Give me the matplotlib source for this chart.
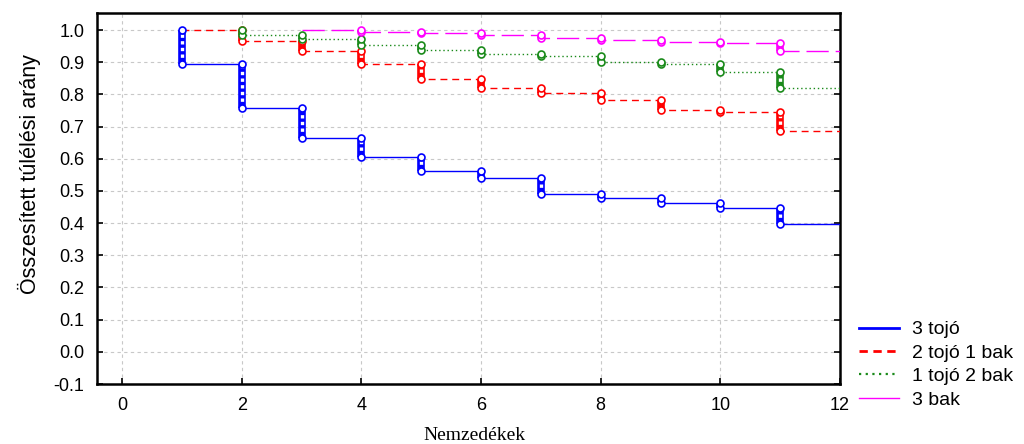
import matplotlib.pyplot as plt
from matplotlib.lines import Line2D
import numpy as np

plt.rcParams['font.family'] = ['Liberation Sans', 'DejaVu Sans']

# Kaplan-Meier jellegű lépcsős görbék (leolvasott értékek)
gen_3tojo = [1, 2, 3, 4, 5, 6, 7, 8, 9, 10, 11]
val_3tojo = [0.895, 0.758, 0.663, 0.604, 0.563, 0.539, 0.492, 0.477, 0.464, 0.446, 0.396]

gen_2tojo1bak = [2, 3, 4, 5, 6, 7, 8, 9, 10, 11]
val_2tojo1bak = [0.966, 0.935, 0.895, 0.848, 0.820, 0.805, 0.782, 0.752, 0.746, 0.687]

gen_1tojo2bak = [2, 3, 4, 5, 6, 7, 8, 9, 10, 11]
val_1tojo2bak = [0.985, 0.973, 0.953, 0.937, 0.927, 0.920, 0.902, 0.894, 0.870, 0.820]

gen_3bak = [4, 5, 6, 7, 8, 9, 10, 11]
val_3bak = [0.995, 0.992, 0.984, 0.976, 0.970, 0.964, 0.960, 0.935]

starts = [1, 1, 2, 3]
end_gen = 12
labels = ['3 tojó', '2 tojó 1 bak', '1 tojó 2 bak', '3 bak']
colors = ['#0000ff', '#ff0000', '#1a8a1a', '#ff00ff']
styles = ['-', (0, (5, 3.5)), (0, (1, 2)), (0, (16, 5))]

series = [(gen_3tojo, val_3tojo), (gen_2tojo1bak, val_2tojo1bak),
          (gen_1tojo2bak, val_1tojo2bak), (gen_3bak, val_3bak)]

fig = plt.figure(figsize=(10.24, 4.44), dpi=100)
ax = fig.add_axes([97/1024, 1-384/444, (840-97)/1024, (384-13)/444])

for (gens, vals), st, col, ls in zip(series, starts, colors, styles):
    xs = [st] + gens + [end_gen]
    ys = [1.0] + vals + [vals[-1]]
    ax.step(xs, ys, where='post', color=col, lw=1.0, linestyle=ls, zorder=3)
    prev = [1.0] + vals[:-1]
    # cenzorált esetek "létrája" a lépcsőknél
    ax.vlines(gens, vals, prev, color=col, lw=5.5, zorder=4)
    ax.vlines(gens, vals, prev, color='white', lw=2.4, linestyle=(0, (1.0, 1.0)), zorder=5)
    ax.plot(gens, vals, 'o', ms=5, mfc='white', mec=col, mew=1.2, zorder=6)
    ax.plot(gens, prev, 'o', ms=5, mfc='white', mec=col, mew=1.2, zorder=6)

ax.set_xlim(-0.42, 12)
ax.set_ylim(-0.1, 1.053)
ax.set_xticks(np.arange(0, 13, 2))
ax.set_yticks(np.arange(-0.1, 1.01, 0.1))
ax.set_yticklabels([f'{v:.1f}' for v in np.arange(-0.1, 1.01, 0.1)])
ax.grid(True, color='#c8c8c8', linestyle=(0, (3, 3)), lw=0.8, zorder=0)
ax.tick_params(direction='in', length=4, width=1.2, labelsize=13,
               right=True, top=False, pad=9)
for sp in ax.spines.values():
    sp.set_linewidth(1.8)

ax.set_ylabel('Összesített túlélési arány', fontsize=15.5)
ax.yaxis.set_label_coords(-0.075, 0.565)
fig.text(474/1024, 4/444, 'Nemzedékek', family=['Liberation Serif', 'DejaVu Serif'],
         fontsize=14, ha='center', va='baseline')

handles = [Line2D([], [], color=colors[0], lw=2.0, linestyle='-'),
           Line2D([], [], color=colors[1], lw=2.0, linestyle=(0, (3, 2))),
           Line2D([], [], color=colors[2], lw=1.6, linestyle=(0, (1, 2))),
           Line2D([], [], color=colors[3], lw=1.0, linestyle='-')]
fig.legend(handles, labels, loc='upper left', bbox_to_anchor=(851/1024, 1-313/444),
           frameon=False, fontsize=14, handlelength=2.05, handletextpad=0.7,
           labelspacing=0.3, borderaxespad=0)

fig.savefig('out.png', dpi=100)
